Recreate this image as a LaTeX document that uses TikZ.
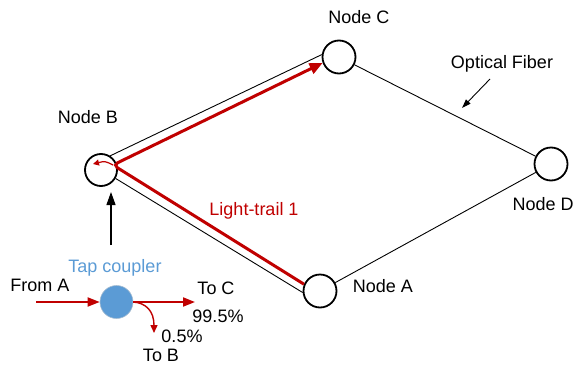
\documentclass[tikz,border=0pt]{standalone}
\usepackage{fontspec}
\setmainfont{Liberation Sans}
\usetikzlibrary{arrows.meta,calc}
\definecolor{trailred}{HTML}{C00000}
\definecolor{tapblue}{HTML}{5B9BD5}
\tikzset{
  lbl/.style={font=\fontsize{18}{20}\selectfont, inner sep=0pt},
  netnode/.style={circle, draw=black, line width=1.8pt, minimum size=33pt, inner sep=0pt, fill=white},
  fiber/.style={draw=black, line width=0.9pt},
  trail/.style={draw=trailred, line width=3pt},
  redarrow/.style={draw=trailred, line width=1.8pt, -{Triangle[length=12pt,width=9pt]}},
}
\begin{document}
\begin{tikzpicture}[x=1pt,y=-1pt]
\useasboundingbox (0,0) rectangle (573,367);
% network nodes
\node[netnode, minimum size=32pt] (B) at (101,170) {};
\node[netnode] (C) at (339,57) {};
\node[netnode] (D) at (551,164) {};
\node[netnode] (A) at (320,291) {};
% fibers
\draw[fiber] (C) -- (D);
\draw[fiber] (D) -- (A);
\draw[fiber] (B.57) -- (C.172);
\draw[fiber] (B.-30) -- (A.185);
% light trail
\coordinate (Bt) at ($(B)+(12,-5)$);
\draw[trail, rounded corners=5pt, -{Triangle[length=13pt,width=11pt]}] (A.157) -- (Bt) -- (C.200);
\coordinate (Bin) at ($(B)+(-8,-6)$);
\draw[draw=trailred, line width=1.2pt, -{Triangle[length=6pt,width=6pt]}] (Bt) .. controls ($(B)+(4,-9)$) .. (Bin);
% labels
\node[lbl] (lB) at (88,117) {Node B};
\node[lbl] (lC) at (359,17) {Node C};
\node[lbl, anchor=west] (lD) at (512.5,204) {Node D};
\node[lbl] (lA) at (383,286) {Node A};
\node[lbl] (of) at (502,64) {Optical Fiber};
\coordinate (ofs) at (490,79);
\coordinate (oft) at (462,108);
\draw[line width=0.9pt, -{Triangle[length=9pt,width=6pt]}] (ofs) -- (oft);
\node[lbl, text=trailred] (lt) at (254,211) {Light-trail 1};
% tap coupler
\coordinate (vs) at (111,245);
\draw[line width=1.2pt, -{Triangle[length=13pt,width=9pt]}] (vs) -- (111,192);
\node[lbl, text=tapblue] (tap) at (115,268) {Tap coupler};
\node[circle, fill=tapblue, draw=tapblue!60!gray!60, line width=0.6pt, minimum size=33pt, inner sep=0pt] (cp) at (116.5,302) {};
\coordinate (fa) at (36,302);
\coordinate (tc) at (195,302);
\coordinate (tb) at (154,333);
\draw[redarrow] (fa) -- (cp.west);
\draw[redarrow] (cp.east) -- (tc);
\draw[draw=trailred, line width=1.4pt, -{Triangle[length=8pt,width=7pt]}] (cp.east) .. controls (146,303) and (154,311) .. (tb);
\node[lbl] (fromA) at (40,285) {From A};
\node[lbl] (toC) at (216,288.5) {To C};
\node[lbl] (p995) at (218,316.5) {99.5\%};
\node[lbl] (p05) at (182,336) {0.5\%};
\node[lbl] (toB) at (161,355) {To B};
\end{tikzpicture}
\end{document}
